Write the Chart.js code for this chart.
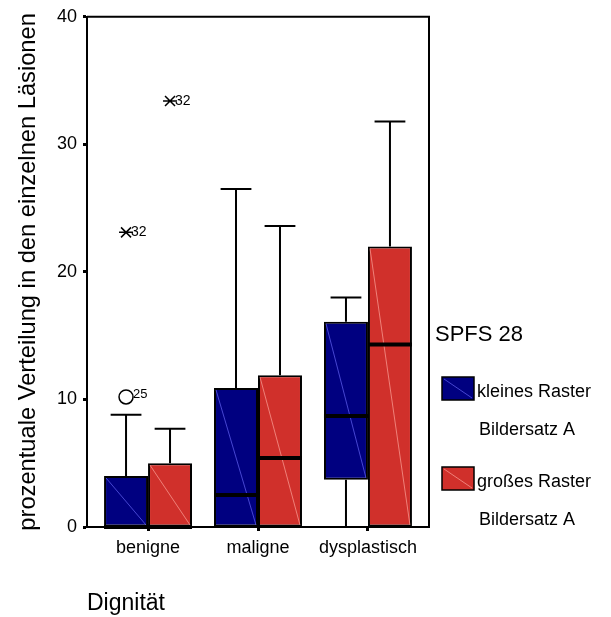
<!DOCTYPE html>
<html>
<head>
<meta charset="utf-8">
<script src="https://cdn.jsdelivr.net/npm/chart.js@4.4.1/dist/chart.umd.min.js"></script>
<style>
  html, body { margin: 0; padding: 0; background: #fff; }
</style>
</head>
<body>
<canvas id="myChart" width="611" height="617"></canvas>
<script>
const categories = ['benigne', 'maligne', 'dysplastisch'];
const seriesLabels = [['kleines Raster', 'Bildersatz A'], ['großes Raster', 'Bildersatz A']];
const legendTitle = 'SPFS 28';
const yTicks = [0, 10, 20, 30, 40];

// kleines Raster (blau)
const kleinMin = [0, 0, 0];
const kleinQ1 = [0, 0, 3.7];
const kleinMedian = [0, 2.5, 8.7];
const kleinQ3 = [4.0, 10.9, 16.1];
const kleinMax = [8.8, 26.5, 18.0];
const kleinOutCat = [0, 0];
const kleinOutValue = [10.2, 23.1];
const kleinOutCase = ['25', '32'];
const kleinOutType = ['circle', 'star'];

// großes Raster (rot)
const grossMin = [0, 0, 0];
const grossQ1 = [0, 0, 0];
const grossMedian = [0, 5.4, 14.3];
const grossQ3 = [5.0, 11.9, 22.0];
const grossMax = [7.7, 23.6, 31.8];
const grossOutCat = [0];
const grossOutValue = [33.4];
const grossOutCase = ['32'];
const grossOutType = ['star'];

const FONT = 'Liberation Sans, Arial, sans-serif';
const blue = '#000080';
const red = '#D0302B';

function boxData(q1, q3) {
    return categories.map((c, i) => ({ x: i, y: [q1[i], q3[i]] }));
}

const datasets = [
    {
        label: seriesLabels[0].join(' '),
        data: boxData(kleinQ1, kleinQ3),
        backgroundColor: blue,
        diagColor: 'rgba(110,110,255,0.8)',
        min: kleinMin, med: kleinMedian, max: kleinMax, q1: kleinQ1, q3: kleinQ3,
        outCat: kleinOutCat, outValue: kleinOutValue, outCase: kleinOutCase, outType: kleinOutType
    },
    {
        label: seriesLabels[1].join(' '),
        data: boxData(grossQ1, grossQ3),
        backgroundColor: red,
        diagColor: 'rgba(255,175,165,0.8)',
        min: grossMin, med: grossMedian, max: grossMax, q1: grossQ1, q3: grossQ3,
        outCat: grossOutCat, outValue: grossOutValue, outCase: grossOutCase, outType: grossOutType
    }
];

const boxPlugin = {
    id: 'boxplot',
    afterDatasetsDraw(chart) {
        const ctx = chart.ctx;
        const ys = chart.scales.y;
        ctx.save();
        chart.data.datasets.forEach((ds, di) => {
            const meta = chart.getDatasetMeta(di);
            meta.data.forEach((bar, i) => {
                const { x, width } = bar.getProps(['x', 'width'], true);
                const left = x - width / 2, right = x + width / 2;
                const top = ys.getPixelForValue(ds.q3[i]);
                const bottom = ys.getPixelForValue(ds.q1[i]);
                const capW = width * 0.35;

                // faint diagonal
                ctx.strokeStyle = ds.diagColor;
                ctx.lineWidth = 0.8;
                ctx.beginPath();
                ctx.moveTo(left + 2, top + 2);
                ctx.lineTo(right - 2, bottom - 2);
                ctx.stroke();

                ctx.strokeStyle = '#000';
                ctx.lineWidth = 2;
                // upper whisker
                const yMax = ys.getPixelForValue(ds.max[i]);
                ctx.beginPath();
                ctx.moveTo(x, top);
                ctx.lineTo(x, yMax);
                ctx.moveTo(x - capW, yMax);
                ctx.lineTo(x + capW, yMax);
                ctx.stroke();
                // lower whisker
                const yMin = ys.getPixelForValue(ds.min[i]);
                if (ds.min[i] < ds.q1[i]) {
                    ctx.beginPath();
                    ctx.moveTo(x, bottom);
                    ctx.lineTo(x, yMin);
                    ctx.moveTo(x - capW, yMin);
                    ctx.lineTo(x + capW, yMin);
                    ctx.stroke();
                }
                // median
                const yMed = ys.getPixelForValue(ds.med[i]);
                ctx.lineWidth = 4;
                ctx.beginPath();
                ctx.moveTo(left, yMed);
                ctx.lineTo(right, yMed);
                ctx.stroke();
            });

            // outliers
            ds.outValue.forEach((v, k) => {
                const bar = meta.data[ds.outCat[k]];
                const x = bar.x;
                const y = ys.getPixelForValue(v);
                ctx.strokeStyle = '#000';
                ctx.lineWidth = 1.5;
                ctx.beginPath();
                ctx.fillStyle = '#000';
                ctx.textAlign = 'left';
                ctx.textBaseline = 'middle';
                if (ds.outType[k] === 'circle') {
                    ctx.arc(x, y, 7, 0, Math.PI * 2);
                    ctx.stroke();
                    ctx.font = '13px ' + FONT;
                    ctx.fillText(ds.outCase[k], x + 7, y - 2);
                } else {
                    ctx.moveTo(x - 7, y);
                    ctx.lineTo(x + 7, y);
                    ctx.moveTo(x - 5, y - 5);
                    ctx.lineTo(x + 5, y + 5);
                    ctx.moveTo(x - 5, y + 5);
                    ctx.lineTo(x + 5, y - 5);
                    ctx.stroke();
                    ctx.font = '14px ' + FONT;
                    ctx.fillText(ds.outCase[k], x + 5, y);
                }
            });
        });
        ctx.restore();
    },
    afterDraw(chart) {
        const ctx = chart.ctx;
        const a = chart.chartArea;
        ctx.save();
        // frame top and right
        ctx.strokeStyle = '#000';
        ctx.lineWidth = 2;
        ctx.beginPath();
        ctx.moveTo(a.left, a.top);
        ctx.lineTo(a.right, a.top);
        ctx.lineTo(a.right, a.bottom);
        ctx.stroke();

        // legend
        ctx.fillStyle = '#000';
        ctx.textAlign = 'left';
        ctx.textBaseline = 'middle';
        ctx.font = '22px ' + FONT;
        ctx.fillText(legendTitle, a.right + 6, 335);
        const rows = [377, 467];
        chart.data.datasets.forEach((ds, di) => {
            const bx = a.right + 13, by = rows[di], bw = 32, bh = 23;
            ctx.fillStyle = ds.backgroundColor;
            ctx.fillRect(bx, by, bw, bh);
            ctx.strokeStyle = ds.diagColor;
            ctx.lineWidth = 0.8;
            ctx.beginPath();
            ctx.moveTo(bx + 2, by + 2);
            ctx.lineTo(bx + bw - 2, by + bh - 2);
            ctx.stroke();
            ctx.strokeStyle = '#000';
            ctx.lineWidth = 1.5;
            ctx.strokeRect(bx, by, bw, bh);
            ctx.fillStyle = '#000';
            ctx.font = '18px ' + FONT;
            ctx.fillText(seriesLabels[di][0], a.right + 48, by + 15);
            ctx.fillText(seriesLabels[di][1], a.right + 50, by + 53);
        });
        ctx.restore();
    }
};

const ctx = document.getElementById('myChart');
new Chart(ctx, {
    type: 'bar',
    data: { datasets: datasets },
    options: {
        responsive: false,
        animation: false,
        devicePixelRatio: 1,
        layout: { padding: { top: 16, right: 182, bottom: 0, left: 0 } },
        plugins: {
            legend: { display: false },
            tooltip: { enabled: false }
        },
        datasets: {
            bar: {
                categoryPercentage: 0.8,
                barPercentage: 1.0,
                borderColor: '#000',
                borderWidth: 2,
                borderSkipped: false
            }
        },
        scales: {
            x: {
                type: 'linear',
                min: -0.555,
                max: 2.555,
                offset: false,
                afterFit: s => { s.height = 90; },
                grid: { offset: false, drawOnChartArea: false, tickLength: 4, tickWidth: 3, tickColor: '#000' },
                border: { display: true, color: '#000', width: 2 },
                ticks: {
                    stepSize: 1,
                    includeBounds: false,
                    autoSkip: false,
                    maxRotation: 0,
                    padding: 6,
                    color: '#000',
                    font: { family: FONT, size: 18 },
                    callback: v => categories[v] ?? ''
                },
                title: {
                    display: true,
                    text: 'Dignität',
                    align: 'start',
                    color: '#000',
                    font: { family: FONT, size: 23 },
                    padding: { top: 0, bottom: 0 }
                }
            },
            y: {
                min: yTicks[0],
                max: yTicks[yTicks.length - 1],
                afterFit: s => { s.width = 87; },
                afterBuildTicks: s => { s.ticks = yTicks.map(v => ({ value: v })); },
                grid: { drawOnChartArea: false, tickLength: 4, tickWidth: 3, tickColor: '#000' },
                border: { display: true, color: '#000', width: 2 },
                ticks: {
                    padding: 6,
                    color: '#000',
                    font: { family: FONT, size: 18 }
                },
                title: {
                    display: true,
                    text: 'prozentuale Verteilung in den einzelnen Läsionen',
                    color: '#000',
                    font: { family: FONT, size: 23.7 },
                    padding: { top: 14, bottom: 0 }
                }
            }
        }
    },
    plugins: [boxPlugin]
});
</script>
</body>
</html>
